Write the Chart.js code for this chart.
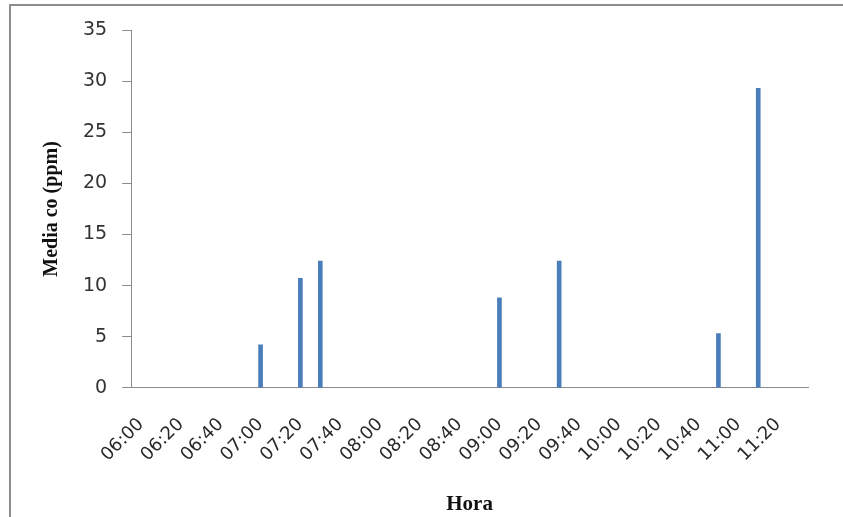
<!DOCTYPE html>
<html lang="es">
<head>
    <meta charset="UTF-8">
    <title>Media co (ppm) por hora</title>
    <script src="https://cdn.jsdelivr.net/npm/chart.js"></script>
    <style>
        html, body {
            margin: 0;
            padding: 0;
            background: #ffffff;
        }
        .frame {
            position: absolute;
            left: 9px;
            top: 4px;
            width: 843px;
            height: 520px;
            border-left: 2px solid #8c8c8c;
            border-top: 2px solid #8c8c8c;
        }
        .chart-box {
            position: absolute;
            left: 0;
            top: 0;
            width: 843px;
            height: 517px;
        }
    </style>
</head>
<body>
    <div class="frame"></div>
    <div class="chart-box">
        <canvas id="coChart" width="843" height="517"></canvas>
    </div>

    <script>
        // 10-minute slots from 06:00 to 11:30 (empty slots have no bar)
        const horas = ['06:00', '06:10', '06:20', '06:30', '06:40', '06:50',
                       '07:00', '07:10', '07:20', '07:30', '07:40', '07:50',
                       '08:00', '08:10', '08:20', '08:30', '08:40', '08:50',
                       '09:00', '09:10', '09:20', '09:30', '09:40', '09:50',
                       '10:00', '10:10', '10:20', '10:30', '10:40', '10:50',
                       '11:00', '11:10', '11:20', '11:30'];
        const mediaCo = [null, null, null, null, null, null,
                         4.2, null, 10.7, 12.4, null, null,
                         null, null, null, null, null, null,
                         8.8, null, null, 12.4, null, null,
                         null, null, null, null, null, 5.3,
                         null, 29.3, null, null];
        const yTicks = [0, 5, 10, 15, 20, 25, 30, 35];

        const tickFont = { family: 'DejaVu Sans, sans-serif', size: 18 };
        const serif = 'Liberation Serif, Times New Roman, serif';

        new Chart(document.getElementById('coChart'), {
            type: 'bar',
            data: {
                labels: horas,
                datasets: [{
                    label: 'Media co (ppm)',
                    data: mediaCo,
                    backgroundColor: '#4a7ebb',
                    barThickness: 4
                }]
            },
            options: {
                responsive: false,
                animation: false,
                layout: {
                    padding: { left: 40, right: 35, top: 30, bottom: 0 }
                },
                plugins: {
                    legend: { display: false },
                    tooltip: { enabled: false }
                },
                scales: {
                    x: {
                        offset: true,
                        grid: { display: false },
                        border: { display: true, color: '#8c8c8c', width: 1 },
                        ticks: {
                            autoSkip: false,
                            maxRotation: 45,
                            minRotation: 45,
                            padding: 18,
                            color: '#2a2a2a',
                            font: tickFont,
                            callback: function(value, index) {
                                return index % 2 === 0 ? horas[index] : '';
                            }
                        },
                        title: {
                            display: true,
                            text: 'Hora',
                            color: '#111',
                            font: { family: serif, size: 21, weight: 'bold' },
                            padding: { top: 8, bottom: 0 }
                        }
                    },
                    y: {
                        min: 0,
                        max: 35,
                        afterBuildTicks: function(axis) {
                            axis.ticks = yTicks.map(v => ({ value: v }));
                        },
                        grid: {
                            drawOnChartArea: false,
                            drawTicks: true,
                            tickLength: 9,
                            color: '#8c8c8c'
                        },
                        border: { display: true, color: '#8c8c8c', width: 1 },
                        ticks: {
                            padding: 15,
                            color: '#333',
                            font: { family: 'DejaVu Sans, sans-serif', size: 19 }
                        },
                        title: {
                            display: true,
                            text: 'Media co (ppm)',
                            color: '#111',
                            font: { family: serif, size: 20, weight: 'bold' },
                            padding: { top: 0, bottom: 4 }
                        }
                    }
                }
            }
        });
    </script>
</body>
</html>
